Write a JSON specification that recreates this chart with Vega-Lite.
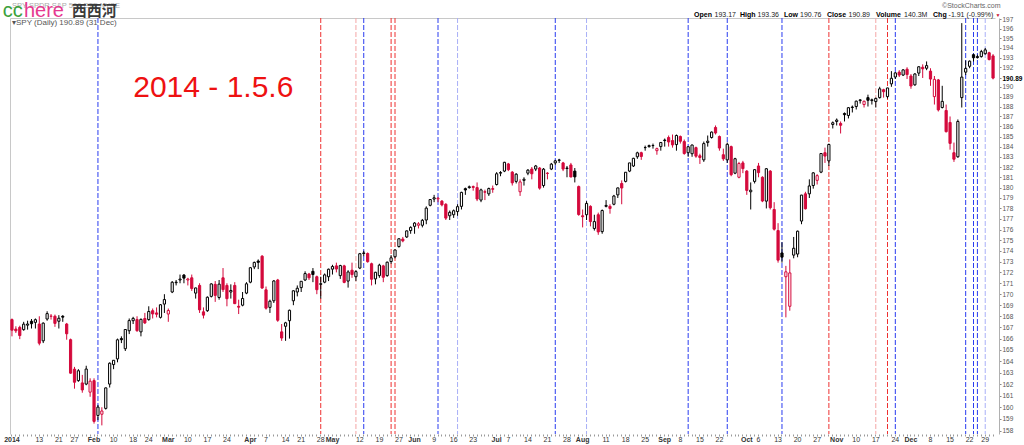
{
"$schema": "https://vega.github.io/schema/vega-lite/v6.json",
"width": 985, "height": 416,
"autosize": "none",
"padding": {"left": 10, "top": 18, "right": 29, "bottom": 11},
"background": "white",
"config": {"view": {"stroke": null}, "font": "Liberation Sans"},
"datasets": {
"candles": [
{"d":"2014-01-02","o":167.7,"h":167.8,"l":166.2,"c":166.75},
{"d":"2014-01-03","o":166.85,"h":167.1,"l":166.5,"c":166.69},
{"d":"2014-01-06","o":167.0,"h":167.15,"l":165.95,"c":166.27},
{"d":"2014-01-07","o":166.8,"h":167.5,"l":166.7,"c":167.29},
{"d":"2014-01-08","o":167.2,"h":167.6,"l":166.8,"c":167.30},
{"d":"2014-01-09","o":167.55,"h":167.75,"l":166.9,"c":167.33},
{"d":"2014-01-10","o":167.45,"h":167.8,"l":166.9,"c":167.69},
{"d":"2014-01-13","o":167.3,"h":168.0,"l":165.4,"c":165.59},
{"d":"2014-01-14","o":165.8,"h":167.45,"l":165.6,"c":167.38},
{"d":"2014-01-15","o":167.75,"h":168.45,"l":167.6,"c":168.24},
{"d":"2014-01-16","o":168.0,"h":168.2,"l":167.7,"c":168.01},
{"d":"2014-01-17","o":168.0,"h":168.15,"l":167.05,"c":167.36},
{"d":"2014-01-21","o":167.55,"h":168.1,"l":166.9,"c":167.82},
{"d":"2014-01-22","o":168.0,"h":168.1,"l":167.5,"c":167.92},
{"d":"2014-01-23","o":167.3,"h":167.4,"l":165.9,"c":166.43},
{"d":"2014-01-24","o":165.9,"h":166.0,"l":162.9,"c":162.95},
{"d":"2014-01-27","o":163.3,"h":163.5,"l":161.6,"c":162.16},
{"d":"2014-01-28","o":162.3,"h":163.3,"l":162.2,"c":163.16},
{"d":"2014-01-29","o":162.1,"h":162.8,"l":161.25,"c":161.49},
{"d":"2014-01-30","o":162.0,"h":163.6,"l":161.9,"c":163.31},
{"d":"2014-01-31","o":161.3,"h":162.5,"l":160.9,"c":162.25},
{"d":"2014-02-03","o":162.3,"h":162.5,"l":158.6,"c":158.79},
{"d":"2014-02-04","o":159.3,"h":160.2,"l":158.9,"c":160.01},
{"d":"2014-02-05","o":159.4,"h":160.0,"l":158.45,"c":159.68},
{"d":"2014-02-06","o":159.9,"h":161.7,"l":159.8,"c":161.67},
{"d":"2014-02-07","o":162.0,"h":163.9,"l":161.7,"c":163.82},
{"d":"2014-02-10","o":163.7,"h":164.1,"l":163.3,"c":164.08},
{"d":"2014-02-11","o":164.2,"h":166.0,"l":163.9,"c":165.89},
{"d":"2014-02-12","o":166.0,"h":166.2,"l":165.6,"c":165.90},
{"d":"2014-02-13","o":165.1,"h":166.85,"l":164.9,"c":166.81},
{"d":"2014-02-14","o":166.7,"h":167.8,"l":166.4,"c":167.61},
{"d":"2014-02-18","o":167.6,"h":167.95,"l":167.3,"c":167.81},
{"d":"2014-02-19","o":167.7,"h":168.0,"l":166.6,"c":166.71},
{"d":"2014-02-20","o":166.6,"h":167.8,"l":166.2,"c":167.72},
{"d":"2014-02-21","o":167.8,"h":168.3,"l":167.3,"c":167.40},
{"d":"2014-02-24","o":167.7,"h":168.9,"l":167.6,"c":168.43},
{"d":"2014-02-25","o":168.5,"h":168.7,"l":167.8,"c":168.21},
{"d":"2014-02-26","o":168.3,"h":168.8,"l":167.9,"c":168.18},
{"d":"2014-02-27","o":167.9,"h":169.1,"l":167.8,"c":169.04},
{"d":"2014-02-28","o":169.1,"h":170.0,"l":168.3,"c":169.51},
{"d":"2014-03-03","o":168.2,"h":168.7,"l":167.5,"c":168.52},
{"d":"2014-03-04","o":170.2,"h":171.2,"l":170.1,"c":171.09},
{"d":"2014-03-05","o":171.05,"h":171.3,"l":170.8,"c":171.10},
{"d":"2014-03-06","o":171.3,"h":171.8,"l":171.0,"c":171.38},
{"d":"2014-03-07","o":171.75,"h":171.85,"l":171.0,"c":171.47},
{"d":"2014-03-10","o":171.3,"h":171.5,"l":170.8,"c":171.39},
{"d":"2014-03-11","o":171.5,"h":171.8,"l":170.3,"c":170.52},
{"d":"2014-03-12","o":170.1,"h":170.6,"l":169.6,"c":170.57},
{"d":"2014-03-13","o":170.8,"h":171.0,"l":168.3,"c":168.58},
{"d":"2014-03-14","o":168.4,"h":168.8,"l":167.8,"c":168.10},
{"d":"2014-03-17","o":168.5,"h":169.8,"l":168.4,"c":169.72},
{"d":"2014-03-18","o":169.8,"h":171.0,"l":169.7,"c":170.94},
{"d":"2014-03-19","o":170.9,"h":171.2,"l":169.3,"c":169.89},
{"d":"2014-03-20","o":169.7,"h":171.3,"l":169.5,"c":170.92},
{"d":"2014-03-21","o":171.5,"h":172.4,"l":170.2,"c":170.42},
{"d":"2014-03-24","o":170.8,"h":171.0,"l":168.9,"c":169.59},
{"d":"2014-03-25","o":170.2,"h":170.9,"l":169.6,"c":170.34},
{"d":"2014-03-26","o":170.8,"h":171.1,"l":169.1,"c":169.14},
{"d":"2014-03-27","o":168.9,"h":169.5,"l":168.2,"c":168.82},
{"d":"2014-03-28","o":169.0,"h":170.2,"l":168.9,"c":169.61},
{"d":"2014-03-31","o":170.1,"h":171.1,"l":170.0,"c":170.95},
{"d":"2014-04-01","o":171.1,"h":172.5,"l":171.0,"c":172.43},
{"d":"2014-04-02","o":172.5,"h":173.0,"l":172.3,"c":172.92},
{"d":"2014-04-03","o":173.05,"h":173.2,"l":172.3,"c":172.93},
{"d":"2014-04-04","o":173.5,"h":173.6,"l":170.5,"c":170.56},
{"d":"2014-04-07","o":170.4,"h":170.7,"l":168.6,"c":168.73},
{"d":"2014-04-08","o":168.8,"h":169.5,"l":168.3,"c":169.36},
{"d":"2014-04-09","o":169.4,"h":171.3,"l":169.2,"c":171.21},
{"d":"2014-04-10","o":171.3,"h":171.4,"l":167.5,"c":167.64},
{"d":"2014-04-11","o":166.6,"h":167.3,"l":165.8,"c":166.05},
{"d":"2014-04-14","o":167.1,"h":167.5,"l":165.8,"c":167.41},
{"d":"2014-04-15","o":167.6,"h":168.6,"l":166.0,"c":168.54},
{"d":"2014-04-16","o":169.4,"h":170.35,"l":169.0,"c":170.31},
{"d":"2014-04-17","o":170.2,"h":170.8,"l":169.8,"c":170.54},
{"d":"2014-04-21","o":170.6,"h":171.2,"l":170.2,"c":171.18},
{"d":"2014-04-22","o":171.3,"h":172.1,"l":171.2,"c":171.89},
{"d":"2014-04-23","o":171.85,"h":171.95,"l":171.3,"c":171.50},
{"d":"2014-04-24","o":172.1,"h":172.4,"l":171.1,"c":171.80},
{"d":"2014-04-25","o":171.6,"h":171.7,"l":170.0,"c":170.41},
{"d":"2014-04-28","o":170.9,"h":171.6,"l":169.6,"c":170.96},
{"d":"2014-04-29","o":171.1,"h":171.9,"l":171.0,"c":171.77},
{"d":"2014-04-30","o":171.6,"h":172.35,"l":171.2,"c":172.29},
{"d":"2014-05-01","o":172.3,"h":172.7,"l":171.8,"c":172.54},
{"d":"2014-05-02","o":172.6,"h":172.9,"l":172.0,"c":172.31},
{"d":"2014-05-05","o":171.7,"h":172.7,"l":171.4,"c":172.63},
{"d":"2014-05-06","o":172.6,"h":172.7,"l":171.0,"c":171.08},
{"d":"2014-05-07","o":171.2,"h":172.2,"l":170.6,"c":172.04},
{"d":"2014-05-08","o":172.2,"h":172.9,"l":171.5,"c":171.80},
{"d":"2014-05-09","o":171.6,"h":172.2,"l":171.2,"c":172.07},
{"d":"2014-05-12","o":172.4,"h":173.8,"l":172.3,"c":173.73},
{"d":"2014-05-13","o":173.75,"h":174.0,"l":173.5,"c":173.80},
{"d":"2014-05-14","o":173.75,"h":173.85,"l":172.9,"c":172.99},
{"d":"2014-05-15","o":172.8,"h":172.9,"l":170.8,"c":171.37},
{"d":"2014-05-16","o":171.4,"h":172.05,"l":170.9,"c":172.01},
{"d":"2014-05-19","o":171.7,"h":172.8,"l":171.5,"c":172.67},
{"d":"2014-05-20","o":172.6,"h":172.7,"l":171.1,"c":171.55},
{"d":"2014-05-21","o":171.7,"h":173.0,"l":171.6,"c":172.94},
{"d":"2014-05-22","o":173.0,"h":173.6,"l":172.8,"c":173.35},
{"d":"2014-05-23","o":173.45,"h":174.1,"l":173.3,"c":174.08},
{"d":"2014-05-27","o":174.4,"h":175.15,"l":174.3,"c":175.13},
{"d":"2014-05-28","o":175.1,"h":175.3,"l":174.8,"c":174.93},
{"d":"2014-05-29","o":175.3,"h":175.9,"l":175.2,"c":175.87},
{"d":"2014-05-30","o":175.9,"h":176.3,"l":175.6,"c":176.20},
{"d":"2014-06-02","o":176.3,"h":176.7,"l":175.6,"c":176.61},
{"d":"2014-06-03","o":176.4,"h":176.7,"l":176.1,"c":176.54},
{"d":"2014-06-04","o":176.4,"h":177.0,"l":176.2,"c":176.87},
{"d":"2014-06-05","o":176.9,"h":178.2,"l":176.5,"c":178.03},
{"d":"2014-06-06","o":178.3,"h":178.9,"l":178.2,"c":178.85},
{"d":"2014-06-09","o":178.9,"h":179.3,"l":178.6,"c":179.02},
{"d":"2014-06-10","o":178.9,"h":179.1,"l":178.6,"c":178.97},
{"d":"2014-06-11","o":178.7,"h":178.8,"l":178.2,"c":178.34},
{"d":"2014-06-12","o":178.4,"h":178.5,"l":176.9,"c":177.08},
{"d":"2014-06-13","o":177.3,"h":177.8,"l":176.9,"c":177.63},
{"d":"2014-06-16","o":177.4,"h":177.9,"l":177.1,"c":177.78},
{"d":"2014-06-17","o":177.7,"h":178.4,"l":177.3,"c":178.17},
{"d":"2014-06-18","o":178.2,"h":179.6,"l":177.9,"c":179.54},
{"d":"2014-06-19","o":179.9,"h":180.0,"l":179.3,"c":179.77},
{"d":"2014-06-20","o":180.0,"h":180.2,"l":179.9,"c":180.08},
{"d":"2014-06-23","o":180.1,"h":180.2,"l":179.7,"c":180.02},
{"d":"2014-06-24","o":180.0,"h":180.5,"l":178.7,"c":178.90},
{"d":"2014-06-25","o":178.8,"h":179.9,"l":178.6,"c":179.78},
{"d":"2014-06-26","o":179.6,"h":179.8,"l":178.8,"c":179.56},
{"d":"2014-06-27","o":179.4,"h":180.0,"l":179.2,"c":179.91},
{"d":"2014-06-30","o":179.9,"h":180.2,"l":179.5,"c":179.84},
{"d":"2014-07-01","o":180.3,"h":181.5,"l":180.2,"c":181.34},
{"d":"2014-07-02","o":181.4,"h":181.6,"l":181.1,"c":181.46},
{"d":"2014-07-03","o":181.6,"h":182.5,"l":181.5,"c":182.46},
{"d":"2014-07-07","o":182.3,"h":182.4,"l":181.6,"c":181.74},
{"d":"2014-07-08","o":181.5,"h":181.6,"l":180.2,"c":180.46},
{"d":"2014-07-09","o":180.6,"h":181.4,"l":180.4,"c":181.30},
{"d":"2014-07-10","o":179.6,"h":180.8,"l":179.2,"c":180.55},
{"d":"2014-07-11","o":180.7,"h":181.0,"l":180.2,"c":180.81},
{"d":"2014-07-14","o":181.4,"h":181.8,"l":181.2,"c":181.69},
{"d":"2014-07-15","o":181.8,"h":182.0,"l":180.8,"c":181.34},
{"d":"2014-07-16","o":181.8,"h":182.2,"l":181.6,"c":182.10},
{"d":"2014-07-17","o":181.9,"h":182.0,"l":179.8,"c":179.95},
{"d":"2014-07-18","o":180.2,"h":181.9,"l":180.0,"c":181.79},
{"d":"2014-07-21","o":181.4,"h":181.5,"l":180.8,"c":181.37},
{"d":"2014-07-22","o":181.8,"h":182.4,"l":181.7,"c":182.28},
{"d":"2014-07-23","o":182.4,"h":182.7,"l":182.2,"c":182.60},
{"d":"2014-07-24","o":182.65,"h":182.8,"l":182.4,"c":182.69},
{"d":"2014-07-25","o":182.4,"h":182.5,"l":181.6,"c":181.80},
{"d":"2014-07-28","o":181.9,"h":182.1,"l":181.0,"c":181.86},
{"d":"2014-07-29","o":182.2,"h":182.4,"l":181.0,"c":181.03},
{"d":"2014-07-30","o":181.6,"h":181.9,"l":180.5,"c":181.04},
{"d":"2014-07-31","o":180.1,"h":180.2,"l":177.3,"c":177.42},
{"d":"2014-08-01","o":177.3,"h":177.9,"l":176.2,"c":177.21},
{"d":"2014-08-04","o":177.4,"h":178.7,"l":176.9,"c":178.48},
{"d":"2014-08-05","o":178.2,"h":178.3,"l":176.3,"c":176.75},
{"d":"2014-08-06","o":176.1,"h":177.4,"l":175.9,"c":176.75},
{"d":"2014-08-07","o":177.4,"h":177.6,"l":175.5,"c":175.77},
{"d":"2014-08-08","o":175.8,"h":177.9,"l":175.6,"c":177.80},
{"d":"2014-08-11","o":178.2,"h":178.8,"l":178.1,"c":178.29},
{"d":"2014-08-12","o":178.2,"h":178.4,"l":177.5,"c":178.00},
{"d":"2014-08-13","o":178.4,"h":179.3,"l":178.3,"c":179.19},
{"d":"2014-08-14","o":179.3,"h":180.0,"l":179.0,"c":179.97},
{"d":"2014-08-15","o":180.4,"h":180.7,"l":178.4,"c":179.96},
{"d":"2014-08-18","o":180.6,"h":181.5,"l":180.5,"c":181.49},
{"d":"2014-08-19","o":181.6,"h":182.4,"l":181.5,"c":182.40},
{"d":"2014-08-20","o":182.1,"h":182.9,"l":182.0,"c":182.85},
{"d":"2014-08-21","o":183.0,"h":183.5,"l":182.8,"c":183.39},
{"d":"2014-08-22","o":183.4,"h":183.5,"l":182.7,"c":183.03},
{"d":"2014-08-25","o":183.9,"h":184.1,"l":183.6,"c":183.91},
{"d":"2014-08-26","o":184.0,"h":184.2,"l":183.9,"c":184.10},
{"d":"2014-08-27","o":184.1,"h":184.3,"l":183.8,"c":184.11},
{"d":"2014-08-28","o":183.6,"h":183.9,"l":183.2,"c":183.80},
{"d":"2014-08-29","o":184.0,"h":184.4,"l":183.6,"c":184.41},
{"d":"2014-09-02","o":184.65,"h":184.8,"l":184.0,"c":184.60},
{"d":"2014-09-03","o":184.9,"h":185.1,"l":184.0,"c":184.46},
{"d":"2014-09-04","o":184.6,"h":185.2,"l":183.9,"c":184.17},
{"d":"2014-09-05","o":184.2,"h":185.2,"l":183.6,"c":185.10},
{"d":"2014-09-08","o":185.0,"h":185.1,"l":184.3,"c":184.53},
{"d":"2014-09-09","o":184.5,"h":184.7,"l":183.2,"c":183.32},
{"d":"2014-09-10","o":183.4,"h":184.05,"l":183.0,"c":183.99},
{"d":"2014-09-11","o":183.3,"h":184.2,"l":183.0,"c":184.16},
{"d":"2014-09-12","o":183.9,"h":184.0,"l":182.9,"c":183.06},
{"d":"2014-09-15","o":183.1,"h":183.3,"l":182.3,"c":182.93},
{"d":"2014-09-16","o":182.7,"h":184.5,"l":182.5,"c":184.30},
{"d":"2014-09-17","o":184.4,"h":185.1,"l":184.0,"c":184.54},
{"d":"2014-09-18","o":184.9,"h":185.5,"l":184.8,"c":185.44},
{"d":"2014-09-19","o":185.9,"h":186.1,"l":185.2,"c":185.35},
{"d":"2014-09-22","o":185.0,"h":185.1,"l":183.6,"c":183.86},
{"d":"2014-09-23","o":183.2,"h":183.8,"l":182.6,"c":182.80},
{"d":"2014-09-24","o":182.7,"h":184.4,"l":182.4,"c":184.23},
{"d":"2014-09-25","o":184.0,"h":184.1,"l":181.1,"c":181.25},
{"d":"2014-09-26","o":181.4,"h":182.9,"l":181.3,"c":182.81},
{"d":"2014-09-29","o":181.0,"h":182.5,"l":180.9,"c":182.34},
{"d":"2014-09-30","o":182.4,"h":182.6,"l":181.4,"c":181.84},
{"d":"2014-10-01","o":181.6,"h":181.7,"l":179.3,"c":179.73},
{"d":"2014-10-02","o":179.6,"h":180.5,"l":177.9,"c":179.75},
{"d":"2014-10-03","o":180.6,"h":181.8,"l":180.4,"c":181.74},
{"d":"2014-10-06","o":182.1,"h":182.4,"l":181.0,"c":181.45},
{"d":"2014-10-07","o":181.0,"h":181.1,"l":178.6,"c":178.71},
{"d":"2014-10-08","o":178.7,"h":181.9,"l":178.0,"c":181.83},
{"d":"2014-10-09","o":181.6,"h":181.7,"l":177.9,"c":178.07},
{"d":"2014-10-10","o":177.9,"h":178.6,"l":175.9,"c":176.03},
{"d":"2014-10-13","o":175.9,"h":176.6,"l":172.9,"c":173.13},
{"d":"2014-10-14","o":173.8,"h":174.8,"l":172.9,"c":173.41},
{"d":"2014-10-15","o":171.6,"h":172.6,"l":167.9,"c":172.05},
{"d":"2014-10-16","o":168.9,"h":173.2,"l":168.5,"c":171.95},
{"d":"2014-10-17","o":173.6,"h":175.3,"l":173.3,"c":174.24},
{"d":"2014-10-20","o":173.7,"h":175.9,"l":173.4,"c":175.84},
{"d":"2014-10-21","o":176.8,"h":179.3,"l":176.5,"c":179.28},
{"d":"2014-10-22","o":179.4,"h":179.6,"l":177.9,"c":177.97},
{"d":"2014-10-23","o":179.4,"h":180.8,"l":179.0,"c":180.16},
{"d":"2014-10-24","o":180.2,"h":181.5,"l":179.9,"c":181.43},
{"d":"2014-10-27","o":180.7,"h":181.3,"l":180.3,"c":181.16},
{"d":"2014-10-28","o":181.5,"h":183.35,"l":181.4,"c":183.32},
{"d":"2014-10-29","o":183.4,"h":183.9,"l":182.4,"c":183.07},
{"d":"2014-10-30","o":182.6,"h":184.3,"l":182.1,"c":184.21},
{"d":"2014-10-31","o":186.2,"h":186.5,"l":185.8,"c":186.37},
{"d":"2014-11-03","o":186.5,"h":186.8,"l":186.1,"c":186.64},
{"d":"2014-11-04","o":186.3,"h":186.5,"l":185.3,"c":186.12},
{"d":"2014-11-05","o":187.3,"h":187.4,"l":186.5,"c":187.18},
{"d":"2014-11-06","o":187.1,"h":187.95,"l":186.8,"c":187.88},
{"d":"2014-11-07","o":187.9,"h":188.1,"l":187.4,"c":187.95},
{"d":"2014-11-10","o":188.0,"h":188.6,"l":187.7,"c":188.54},
{"d":"2014-11-11","o":188.6,"h":188.75,"l":188.3,"c":188.67},
{"d":"2014-11-12","o":188.2,"h":188.6,"l":187.9,"c":188.53},
{"d":"2014-11-13","o":188.9,"h":189.2,"l":188.0,"c":188.63},
{"d":"2014-11-14","o":188.6,"h":188.8,"l":188.2,"c":188.68},
{"d":"2014-11-17","o":188.5,"h":188.9,"l":187.9,"c":188.82},
{"d":"2014-11-18","o":188.9,"h":190.0,"l":188.8,"c":189.79},
{"d":"2014-11-19","o":189.7,"h":189.8,"l":188.9,"c":189.50},
{"d":"2014-11-20","o":189.0,"h":189.9,"l":188.8,"c":189.88},
{"d":"2014-11-21","o":190.3,"h":191.6,"l":190.0,"c":190.87},
{"d":"2014-11-24","o":191.0,"h":191.5,"l":190.8,"c":191.42},
{"d":"2014-11-25","o":191.5,"h":191.7,"l":191.0,"c":191.20},
{"d":"2014-11-26","o":191.2,"h":191.8,"l":191.1,"c":191.73},
{"d":"2014-11-28","o":191.8,"h":192.0,"l":190.8,"c":191.25},
{"d":"2014-12-01","o":191.1,"h":191.3,"l":189.8,"c":190.08},
{"d":"2014-12-02","o":190.2,"h":191.4,"l":190.1,"c":191.31},
{"d":"2014-12-03","o":191.4,"h":192.1,"l":191.1,"c":192.05},
{"d":"2014-12-04","o":192.0,"h":192.3,"l":190.9,"c":191.84},
{"d":"2014-12-05","o":191.9,"h":192.6,"l":191.7,"c":192.17},
{"d":"2014-12-08","o":191.6,"h":191.9,"l":190.1,"c":190.79},
{"d":"2014-12-09","o":189.0,"h":191.1,"l":188.2,"c":190.76},
{"d":"2014-12-10","o":190.7,"h":190.8,"l":187.5,"c":187.66},
{"d":"2014-12-11","o":187.9,"h":190.1,"l":187.8,"c":188.52},
{"d":"2014-12-12","o":187.6,"h":188.2,"l":185.4,"c":185.48},
{"d":"2014-12-15","o":186.4,"h":187.0,"l":183.7,"c":184.32},
{"d":"2014-12-16","o":183.4,"h":184.4,"l":182.5,"c":182.76},
{"d":"2014-12-17","o":183.0,"h":186.7,"l":182.9,"c":186.50},
{"d":"2014-12-18","o":188.9,"h":196.6,"l":187.9,"c":190.99},
{"d":"2014-12-19","o":191.5,"h":192.7,"l":191.2,"c":191.88},
{"d":"2014-12-22","o":192.1,"h":192.7,"l":191.9,"c":192.63},
{"d":"2014-12-23","o":193.3,"h":193.4,"l":192.6,"c":192.98},
{"d":"2014-12-24","o":193.1,"h":193.3,"l":192.9,"c":193.00},
{"d":"2014-12-26","o":193.1,"h":193.8,"l":193.0,"c":193.62},
{"d":"2014-12-29","o":193.4,"h":194.0,"l":193.3,"c":193.80},
{"d":"2014-12-30","o":193.5,"h":193.6,"l":192.7,"c":192.80},
{"d":"2014-12-31","o":193.17,"h":193.36,"l":190.76,"c":190.89}
],
"vlines": [
{"d":"2014-02-04","k":"blue"},
{"d":"2014-04-28","k":"red"},
{"d":"2014-05-09","k":"lightred"},
{"d":"2014-05-13","k":"blue"},
{"d":"2014-05-22","k":"red"},
{"d":"2014-05-23","k":"red"},
{"d":"2014-06-10","k":"blue"},
{"d":"2014-06-17","k":"lightblue"},
{"d":"2014-07-23","k":"blue"},
{"d":"2014-08-04","k":"lightblue"},
{"d":"2014-09-10","k":"blue"},
{"d":"2014-09-24","k":"blue"},
{"d":"2014-10-14","k":"blue"},
{"d":"2014-10-30","k":"red"},
{"d":"2014-11-17","k":"lightred"},
{"d":"2014-11-20","k":"red"},
{"d":"2014-11-24","k":"blue"},
{"d":"2014-12-19","k":"blue"},
{"d":"2014-12-23","k":"blue"},
{"d":"2014-12-24","k":"blue"},
{"d":"2014-12-29","k":"lightblue"}
]
},
"layer": [
{
"data": {"name": "vlines"},
"mark": {"type": "rule", "strokeWidth": 1, "strokeDash": [5, 2]},
"encoding": {
"x": {"field": "d", "type": "ordinal", "scale": {"type": "band", "paddingInner": 0, "paddingOuter": 0}, "axis": null},
"color": {"field": "k", "type": "nominal", "scale": {"domain": ["blue", "red", "lightblue", "lightred"], "range": ["#2a3cf0", "#ee3030", "#a9b0f7", "#f4a6a6"]}, "legend": null}
}
},
{
"data": {"name": "candles"},
"transform": [
{"window": [{"op": "lag", "field": "c", "as": "pc"}], "sort": [{"field": "d", "order": "ascending"}]},
{"calculate": "datum.pc != null && datum.c >= datum.pc ? 'up' : 'down'", "as": "dir"},
{"calculate": "datum.c > datum.o ? 'hollow' : datum.dir", "as": "body"}
],
"mark": {"type": "rule", "strokeWidth": 1},
"encoding": {
"x": {"field": "d", "type": "ordinal", "scale": {"type": "band", "paddingInner": 0, "paddingOuter": 0},
"axis": {"orient": "bottom", "title": null, "domain": false, "grid": false, "ticks": true, "tickSize": 2, "tickColor": "#999999", "labelPadding": -1, "labelFontSize": 7, "labelColor": "#333333", "labelAngle": 0, "labelOverlap": false, "labelFlush": false, "labelBound": false, "labelFont": "Liberation Sans",
"labelExpr": "datum.value == '2014-01-02' ? '2014' : indexof(['2014-02-03','2014-03-03','2014-04-01','2014-05-01','2014-06-02','2014-07-01','2014-08-01','2014-09-02','2014-10-01','2014-11-03','2014-12-01'], datum.value) >= 0 ? ['Jan','Feb','Mar','Apr','May','Jun','Jul','Aug','Sep','Oct','Nov','Dec'][toNumber(substring(datum.value,5,7))-1] : indexof(['2014-01-13','2014-01-21','2014-01-27','2014-02-10','2014-02-18','2014-02-24','2014-03-10','2014-03-17','2014-03-24','2014-04-07','2014-04-14','2014-04-21','2014-04-28','2014-05-12','2014-05-19','2014-05-27','2014-06-09','2014-06-16','2014-06-23','2014-07-07','2014-07-14','2014-07-21','2014-07-28','2014-08-11','2014-08-18','2014-08-25','2014-09-08','2014-09-15','2014-09-22','2014-10-06','2014-10-13','2014-10-20','2014-10-27','2014-11-10','2014-11-17','2014-11-24','2014-12-08','2014-12-15','2014-12-22','2014-12-29'], datum.value) >= 0 ? '' + toNumber(substring(datum.value,8,10)) : ''",
"labelFontWeight": {"condition": {"test": "datum.value == '2014-01-02' || indexof(['2014-02-03','2014-03-03','2014-04-01','2014-05-01','2014-06-02','2014-07-01','2014-08-01','2014-09-02','2014-10-01','2014-11-03','2014-12-01'], datum.value) >= 0", "value": "bold"}, "value": "normal"}
}},
"y": {"field": "l", "type": "quantitative", "scale": {"type": "log", "domain": [157.72, 197.14], "nice": false, "zero": false},
"axis": {"orient": "right", "offset": 4, "title": null, "grid": false, "values": [158,159,160,161,162,163,164,165,166,167,168,169,170,171,172,173,174,175,176,177,178,179,180,181,182,183,184,185,186,187,188,189,190,190.89,192,193,194,195,196,197], "format": ".2~f", "domainColor": "#b0b0b0", "tickColor": "#888888", "tickSize": 2, "labelPadding": 1, "labelFontSize": 6.5, "labelFont": "Liberation Sans", "labelOverlap": false, "labelFlush": false, "labelBound": false, "labelBaseline": "middle",
"labelColor": {"condition": {"test": "datum.value == 190.89", "value": "#000000"}, "value": "#555555"},
"labelFontWeight": {"condition": {"test": "datum.value == 190.89", "value": "bold"}, "value": "normal"}
}},
"y2": {"field": "h"},
"stroke": {"field": "dir", "type": "nominal", "scale": {"domain": ["up", "down"], "range": ["#000000", "#d40a3c"]}, "legend": null}
}
},
{
"data": {"name": "candles"},
"transform": [
{"window": [{"op": "lag", "field": "c", "as": "pc"}], "sort": [{"field": "d", "order": "ascending"}]},
{"calculate": "datum.pc != null && datum.c >= datum.pc ? 'up' : 'down'", "as": "dir"},
{"calculate": "datum.c > datum.o ? 'hollow' : datum.dir", "as": "body"}
],
"mark": {"type": "bar", "width": 2.2, "strokeWidth": 1},
"encoding": {
"x": {"field": "d", "type": "ordinal", "scale": {"type": "band", "paddingInner": 0, "paddingOuter": 0},
"axis": {"orient": "top", "title": null, "labels": false, "ticks": false, "domain": true, "domainColor": "#c8c8c8", "grid": false}},
"y": {"field": "o", "type": "quantitative", "scale": {"type": "log", "domain": [157.72, 197.14], "nice": false, "zero": false},
"axis": {"orient": "left", "title": null, "labels": false, "ticks": false, "domain": true, "domainColor": "#c8c8c8", "grid": false}},
"y2": {"field": "c"},
"fill": {"field": "body", "type": "nominal", "scale": {"domain": ["up", "down", "hollow"], "range": ["#000000", "#d40a3c", "#ffffff"]}, "legend": null},
"stroke": {"field": "dir", "type": "nominal", "scale": {"domain": ["up", "down"], "range": ["#000000", "#d40a3c"]}, "legend": null}
}
},
{
"data": {"values": [{}]},
"mark": {"type": "text", "text": "SPY SPDR S&P 500 ETF  NYSE", "fontSize": 7.5, "color": "#aaaaaa", "align": "left", "baseline": "middle", "dx": 0},
"encoding": {"x": {"datum": "2014-01-02", "type": "ordinal", "axis": null}, "y": {"datum": 198.46, "type": "quantitative", "axis": null}}
},
{
"data": {"values": [{}]},
"mark": {"type": "text", "text": "cc", "fontSize": 20, "color": "#3ba13b", "align": "left", "baseline": "alphabetic", "dx": -9.3},
"encoding": {"x": {"datum": "2014-01-02", "type": "ordinal", "axis": null}, "y": {"datum": 197.21, "type": "quantitative", "axis": null}}
},
{
"data": {"values": [{}]},
"mark": {"type": "text", "text": "here", "fontSize": 20, "color": "#e6398f", "align": "left", "baseline": "alphabetic", "dx": 12},
"encoding": {"x": {"datum": "2014-01-02", "type": "ordinal", "axis": null}, "y": {"datum": 197.21, "type": "quantitative", "axis": null}}
},
{
"data": {"values": [{}]},
"mark": {"type": "text", "text": "西西河", "font": "Noto Sans CJK SC", "fontWeight": "bold", "fontSize": 15, "color": "#3a3a3a", "align": "left", "baseline": "middle", "dx": 59.7},
"encoding": {"x": {"datum": "2014-01-02", "type": "ordinal", "axis": null}, "y": {"datum": 197.83, "type": "quantitative", "axis": null}}
},
{
"data": {"values": [{}]},
"mark": {"type": "text", "text": "▾SPY (Daily) 190.89 (31 Dec)", "fontSize": 8, "color": "#555555", "align": "left", "baseline": "middle", "dx": 0},
"encoding": {"x": {"datum": "2014-01-02", "type": "ordinal", "axis": null}, "y": {"datum": 196.58, "type": "quantitative", "axis": null}}
},
{
"data": {"values": [{}]},
"mark": {"type": "text", "text": "2014 - 1.5.6", "fontSize": 30, "color": "#ee1111", "align": "center", "baseline": "middle", "dx": 2},
"encoding": {"x": {"datum": "2014-03-18", "type": "ordinal", "axis": null}, "y": {"datum": 189.87, "type": "quantitative", "axis": null}}
},
{
"data": {"values": [{}]},
"mark": {"type": "text", "text": "©StockCharts.com", "fontSize": 7, "color": "#666666", "align": "left", "baseline": "middle", "dx": -51},
"encoding": {"x": {"datum": "2014-12-31", "type": "ordinal", "axis": null}, "y": {"datum": 198.41, "type": "quantitative", "axis": null}}
},
{"data": {"values": [{}]}, "mark": {"type": "text", "text": "Open", "fontSize": 7, "fontWeight": "bold", "color": "#000000", "align": "left", "baseline": "middle", "dx": -299}, "encoding": {"x": {"datum": "2014-12-31", "type": "ordinal", "axis": null}, "y": {"datum": 197.45, "type": "quantitative", "axis": null}}},
{"data": {"values": [{}]}, "mark": {"type": "text", "text": "193.17", "fontSize": 7, "color": "#222222", "align": "left", "baseline": "middle", "dx": -278.5}, "encoding": {"x": {"datum": "2014-12-31", "type": "ordinal", "axis": null}, "y": {"datum": 197.45, "type": "quantitative", "axis": null}}},
{"data": {"values": [{}]}, "mark": {"type": "text", "text": "High", "fontSize": 7, "fontWeight": "bold", "color": "#000000", "align": "left", "baseline": "middle", "dx": -253}, "encoding": {"x": {"datum": "2014-12-31", "type": "ordinal", "axis": null}, "y": {"datum": 197.45, "type": "quantitative", "axis": null}}},
{"data": {"values": [{}]}, "mark": {"type": "text", "text": "193.36", "fontSize": 7, "color": "#222222", "align": "left", "baseline": "middle", "dx": -235.5}, "encoding": {"x": {"datum": "2014-12-31", "type": "ordinal", "axis": null}, "y": {"datum": 197.45, "type": "quantitative", "axis": null}}},
{"data": {"values": [{}]}, "mark": {"type": "text", "text": "Low", "fontSize": 7, "fontWeight": "bold", "color": "#000000", "align": "left", "baseline": "middle", "dx": -209}, "encoding": {"x": {"datum": "2014-12-31", "type": "ordinal", "axis": null}, "y": {"datum": 197.45, "type": "quantitative", "axis": null}}},
{"data": {"values": [{}]}, "mark": {"type": "text", "text": "190.76", "fontSize": 7, "color": "#222222", "align": "left", "baseline": "middle", "dx": -193}, "encoding": {"x": {"datum": "2014-12-31", "type": "ordinal", "axis": null}, "y": {"datum": 197.45, "type": "quantitative", "axis": null}}},
{"data": {"values": [{}]}, "mark": {"type": "text", "text": "Close", "fontSize": 7, "fontWeight": "bold", "color": "#000000", "align": "left", "baseline": "middle", "dx": -166}, "encoding": {"x": {"datum": "2014-12-31", "type": "ordinal", "axis": null}, "y": {"datum": 197.45, "type": "quantitative", "axis": null}}},
{"data": {"values": [{}]}, "mark": {"type": "text", "text": "190.89", "fontSize": 7, "color": "#222222", "align": "left", "baseline": "middle", "dx": -144.5}, "encoding": {"x": {"datum": "2014-12-31", "type": "ordinal", "axis": null}, "y": {"datum": 197.45, "type": "quantitative", "axis": null}}},
{"data": {"values": [{}]}, "mark": {"type": "text", "text": "Volume", "fontSize": 7, "fontWeight": "bold", "color": "#000000", "align": "left", "baseline": "middle", "dx": -117}, "encoding": {"x": {"datum": "2014-12-31", "type": "ordinal", "axis": null}, "y": {"datum": 197.45, "type": "quantitative", "axis": null}}},
{"data": {"values": [{}]}, "mark": {"type": "text", "text": "140.3M", "fontSize": 7, "color": "#222222", "align": "left", "baseline": "middle", "dx": -89}, "encoding": {"x": {"datum": "2014-12-31", "type": "ordinal", "axis": null}, "y": {"datum": 197.45, "type": "quantitative", "axis": null}}},
{"data": {"values": [{}]}, "mark": {"type": "text", "text": "Chg", "fontSize": 7, "fontWeight": "bold", "color": "#000000", "align": "left", "baseline": "middle", "dx": -60}, "encoding": {"x": {"datum": "2014-12-31", "type": "ordinal", "axis": null}, "y": {"datum": 197.45, "type": "quantitative", "axis": null}}},
{"data": {"values": [{}]}, "mark": {"type": "text", "text": "-1.91 (-0.99%)", "fontSize": 7, "color": "#222222", "align": "left", "baseline": "middle", "dx": -44.5}, "encoding": {"x": {"datum": "2014-12-31", "type": "ordinal", "axis": null}, "y": {"datum": 197.45, "type": "quantitative", "axis": null}}},
{"data": {"values": [{}]}, "mark": {"type": "text", "text": "▼", "fontSize": 5, "color": "#c8102e", "align": "left", "baseline": "middle", "dx": 2.5}, "encoding": {"x": {"datum": "2014-12-31", "type": "ordinal", "axis": null}, "y": {"datum": 197.45, "type": "quantitative", "axis": null}}}
],
"resolve": {"axis": {"x": "independent", "y": "independent"}}
}
